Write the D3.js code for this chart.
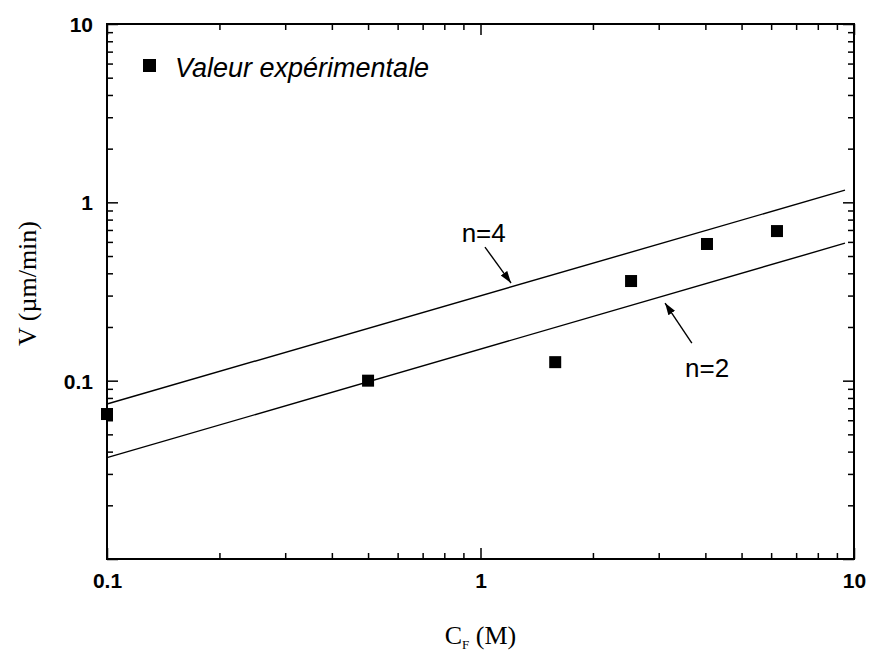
<!DOCTYPE html>
<html>
<head>
<meta charset="utf-8">
<script src="https://cdn.jsdelivr.net/npm/d3@7"></script>
<style>
  body { margin: 0; background: #fff; }
  svg { display: block; }
</style>
</head>
<body>
<div id="chart"></div>
<script>
// Measured points (C_F in M, V in µm/min)
const concentrations = [0.1, 0.5, 1.585, 2.53, 4.04, 6.22];
const velocities = [0.065, 0.1, 0.127, 0.362, 0.584, 0.69];

// Model lines, given by their two end points
const modelX = [0.1, 9.46];
const modelN4 = [0.074, 1.17];
const modelN2 = [0.037, 0.59];

// Annotations in data units: label anchor, arrow tail, arrow tip
const annotations = [
    { label: "n=4", at: [1.02, 0.598], from: [1.028, 0.561], to: [1.207, 0.353] },
    { label: "n=2", at: [3.53, 0.1047], from: [3.68, 0.1626], to: [3.12, 0.2724], anchor: "start" }
];

const xDomain = [0.1, 10];
const yDomain = [0.01, 10];
const xLabels = [0.1, 1, 10];
const yLabels = [0.1, 1, 10];

const width = 869;
const height = 657;
const marginTop = 24;
const marginRight = 15;
const marginBottom = 98;
const marginLeft = 107;

const x = d3.scaleLog().domain(xDomain).range([marginLeft, width - marginRight]);
const y = d3.scaleLog().domain(yDomain).range([height - marginBottom, marginTop]);

// major / minor ticks of a log decade range
function logTicks(domain) {
    const major = [], minor = [];
    for (let e = Math.round(Math.log10(domain[0])); e <= Math.round(Math.log10(domain[1])); e++) {
        const p = Math.pow(10, e);
        major.push(p);
        if (p < domain[1])
            for (let k = 2; k <= 9; k++) minor.push(k * p);
    }
    return { major, minor };
}
const xt = logTicks(xDomain);
const yt = logTicks(yDomain);

const svg = d3.select("#chart").append("svg")
    .attr("width", width)
    .attr("height", height)
    .attr("viewBox", [0, 0, width, height]);

const tickFont = g => g.selectAll("text")
    .attr("font-family", "'Liberation Sans', Arial, sans-serif")
    .attr("font-weight", "bold")
    .attr("font-size", 21)
    .attr("fill", "#000");

const majorLen = 11, minorLen = 6;

function addAxis(axisFn, scale, ticks, transform, labels) {
    // minor ticks
    svg.append("g")
        .attr("transform", transform)
        .call(axisFn(scale).tickValues(ticks.minor).tickSize(-minorLen).tickFormat(""))
        .call(g => g.select(".domain").remove())
        .call(g => g.selectAll("line").attr("stroke", "#000").attr("stroke-width", 1.5));
    // major ticks
    return svg.append("g")
        .attr("transform", transform)
        .call(axisFn(scale).tickValues(ticks.major).tickSize(-majorLen)
            .tickFormat(d => labels && labels.includes(d) ? String(d) : ""))
        .call(g => g.select(".domain").remove())
        .call(g => g.selectAll("line").attr("stroke", "#000").attr("stroke-width", 1.5))
        .call(tickFont);
}

const bottom = addAxis(d3.axisBottom, x, xt, `translate(0,${height - marginBottom})`, xLabels);
bottom.selectAll("text").attr("y", 29).attr("dy", 0);
addAxis(d3.axisTop, x, xt, `translate(0,${marginTop})`, null);
const left = addAxis(d3.axisLeft, y, yt, `translate(${marginLeft},0)`, yLabels);
left.selectAll("text").attr("x", -14).attr("dy", "0.36em");
addAxis(d3.axisRight, y, yt, `translate(${width - marginRight},0)`, null);

// frame
svg.append("rect")
    .attr("x", marginLeft)
    .attr("y", marginTop)
    .attr("width", width - marginLeft - marginRight)
    .attr("height", height - marginTop - marginBottom)
    .attr("fill", "none")
    .attr("stroke", "#000")
    .attr("stroke-width", 2);

// model lines
const line = d3.line().x(d => x(d[0])).y(d => y(d[1]));
for (const values of [modelN4, modelN2]) {
    svg.append("path")
        .datum(d3.zip(modelX, values))
        .attr("d", line)
        .attr("fill", "none")
        .attr("stroke", "#000")
        .attr("stroke-width", 1.4);
}

// experimental points
const size = 12;
svg.append("g")
  .selectAll("rect")
  .data(d3.zip(concentrations, velocities))
  .join("rect")
    .attr("x", d => x(d[0]) - size / 2)
    .attr("y", d => y(d[1]) - size / 2)
    .attr("width", size)
    .attr("height", size)
    .attr("fill", "#000");

// annotations with arrows
svg.append("defs").append("marker")
    .attr("id", "arrow")
    .attr("viewBox", "0 0 12 10")
    .attr("refX", 12)
    .attr("refY", 5)
    .attr("markerWidth", 12)
    .attr("markerHeight", 10)
    .attr("markerUnits", "userSpaceOnUse")
    .attr("orient", "auto")
  .append("path")
    .attr("d", "M0,1 L12,5 L0,9 Z")
    .attr("fill", "#000");

for (const a of annotations) {
    svg.append("line")
        .attr("x1", x(a.from[0])).attr("y1", y(a.from[1]))
        .attr("x2", x(a.to[0])).attr("y2", y(a.to[1]))
        .attr("stroke", "#000")
        .attr("stroke-width", 1.4)
        .attr("marker-end", "url(#arrow)");
    svg.append("text")
        .attr("x", x(a.at[0]))
        .attr("y", y(a.at[1]))
        .attr("text-anchor", a.anchor || "middle")
        .attr("font-family", "'Liberation Sans', Arial, sans-serif")
        .attr("font-size", 26)
        .text(a.label);
}

// legend
svg.append("rect")
    .attr("x", 143).attr("y", 59)
    .attr("width", 13).attr("height", 13)
    .attr("fill", "#000");
svg.append("text")
    .attr("x", 175).attr("y", 77)
    .attr("font-family", "'Liberation Sans', Arial, sans-serif")
    .attr("font-style", "italic")
    .attr("font-size", 27)
    .text("Valeur expérimentale");

// axis titles
svg.append("text")
    .attr("transform", `translate(36,${(marginTop + height - marginBottom) / 2 - 8}) rotate(-90)`)
    .attr("text-anchor", "middle")
    .attr("font-family", "'Liberation Serif', 'Times New Roman', serif")
    .attr("font-size", 26)
    .text("V (µm/min)");

const xTitle = svg.append("text")
    .attr("x", x(1))
    .attr("y", 644)
    .attr("text-anchor", "middle")
    .attr("font-family", "'Liberation Serif', 'Times New Roman', serif")
    .attr("font-size", 26);
xTitle.append("tspan").text("C");
xTitle.append("tspan").attr("font-size", 13).attr("dy", 5).text("F");
xTitle.append("tspan").attr("dy", -5).text(" (M)");
</script>
</body>
</html>
